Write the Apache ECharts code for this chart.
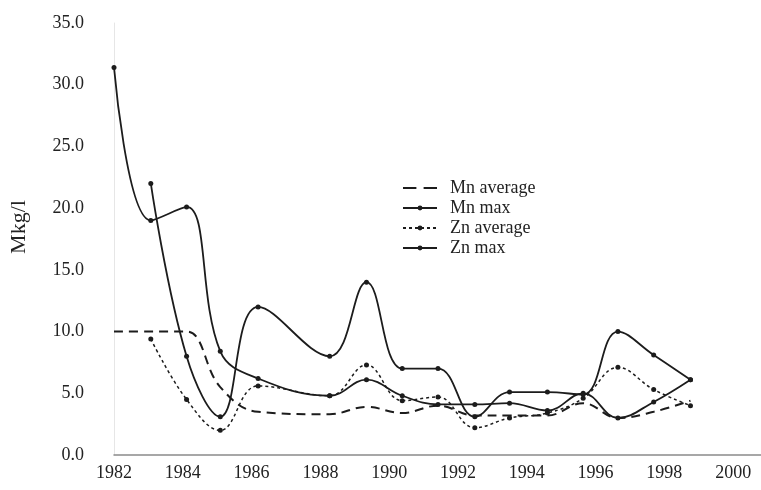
<!DOCTYPE html>
<html>
<head>
<meta charset="utf-8">
<script src="https://cdn.jsdelivr.net/npm/echarts@6/dist/echarts.min.js"></script>
<style>
html,body{margin:0;padding:0;background:#fff;}
#chart{width:761px;height:490px;}
</style>
</head>
<body>
<div id="chart"></div>
<script>
// Year categories of the observations
var years = [1982, 1983, 1984, 1985, 1986, 1988, 1989, 1990, 1991, 1992, 1993, 1994, 1995, 1996, 1997, 1998];
var xPositions = [1982.0, 1983.07, 1984.11, 1985.09, 1986.19, 1988.27, 1989.34, 1990.38, 1991.42, 1992.49, 1993.5, 1994.6, 1995.64, 1996.65, 1997.69, 1998.76];
var mnAverage = [10.0, 10.0, 10.0, 5.5, 3.5, 3.3, 3.9, 3.4, 4.0, 3.2, 3.2, 3.2, 4.2, 3.0, 3.5, 4.4];
var mnMax     = [31.4, 19.0, 20.1, 8.4, 6.2, 4.8, 6.1, 4.8, 4.1, 4.1, 4.2, 3.6, 5.0, 3.0, 4.3, 6.1];
var znAverage = [null, 9.4, 4.5, 2.0, 5.6, 4.8, 7.3, 4.4, 4.7, 2.2, 3.0, 3.4, 4.6, 7.1, 5.3, 4.0];
var znMax     = [null, 22.0, 8.0, 3.1, 12.0, 8.0, 14.0, 7.0, 7.0, 3.1, 5.1, 5.1, 4.9, 10.0, 8.1, 6.1];
var seriesNames = ['Mn average', 'Mn max', 'Zn average', 'Zn max'];
var yTicks = [0, 5, 10, 15, 20, 25, 30, 35];
var xTicks = [1982, 1984, 1986, 1988, 1990, 1992, 1994, 1996, 1998, 2000];
var yName = 'Mkg/l';

function pairs(vals) {
  var out = [];
  for (var i = 0; i < vals.length; i++) {
    if (vals[i] !== null) out.push([xPositions[i], vals[i]]);
  }
  return out;
}

var ink = '#1c1c1c';
var font = 'Liberation Serif';
var chart = echarts.init(document.getElementById('chart'), null, {renderer: 'canvas'});
chart.setOption({
  backgroundColor: '#ffffff',
  animation: false,
  textStyle: {fontFamily: font, color: '#222'},
  grid: {left: 110, right: 0, top: 23, bottom: 35, containLabel: false},
  legend: {
    orient: 'vertical',
    left: 397,
    top: 173,
    itemWidth: 34,
    itemHeight: 6,
    itemGap: 0,
    symbolKeepAspect: true,
    textStyle: {fontFamily: font, fontSize: 18, color: '#222', lineHeight: 20, padding: [0, 0, 0, 8]},
    data: [
      {name: seriesNames[0], icon: 'path://M0,0H13V2H0Z M20,0H33V2H20Z', itemStyle: {color: ink}},
      {name: seriesNames[1]},
      {name: seriesNames[2]},
      {name: seriesNames[3]}
    ]
  },
  xAxis: {
    type: 'value',
    min: xTicks[0],
    max: 2000.81,
    interval: 2,
    axisLine: {show: true, lineStyle: {color: '#8a8a8a', width: 1.5}},
    axisTick: {show: false},
    splitLine: {show: false},
    axisLabel: {
      fontFamily: font, fontSize: 18, color: '#222', margin: 9,
      showMaxLabel: false,
      formatter: function (v) { return xTicks.indexOf(Math.round(v * 100) / 100) >= 0 ? String(v) : ''; }
    }
  },
  yAxis: {
    type: 'value',
    min: yTicks[0],
    max: yTicks[yTicks.length - 1],
    interval: 5,
    name: yName,
    nameLocation: 'middle',
    nameRotate: 90,
    nameGap: 84,
    nameTextStyle: {fontFamily: font, fontSize: 22, color: '#222', padding: [0, 0, 0, 24]},
    axisLine: {show: true, lineStyle: {color: '#e6e6e6', width: 1}},
    axisTick: {show: false},
    splitLine: {show: false},
    axisLabel: {
      fontFamily: font, fontSize: 18, color: '#222', margin: 30,
      formatter: function (v) { return v.toFixed(1); }
    }
  },
  series: [
    {
      name: seriesNames[0], type: 'line', smooth: 0.4,
      data: pairs(mnAverage), symbol: 'none',
      lineStyle: {color: ink, width: 2, type: [9, 6]},
      itemStyle: {color: ink}
    },
    {
      name: seriesNames[1], type: 'line', smooth: 0.4,
      data: pairs(mnMax), symbol: 'circle', symbolSize: 5,
      lineStyle: {color: ink, width: 1.8},
      itemStyle: {color: ink}
    },
    {
      name: seriesNames[2], type: 'line', smooth: 0.4,
      data: pairs(znAverage), symbol: 'circle', symbolSize: 5,
      lineStyle: {color: ink, width: 1.5, type: [3, 3]},
      itemStyle: {color: ink}
    },
    {
      name: seriesNames[3], type: 'line', smooth: 0.4,
      data: pairs(znMax), symbol: 'circle', symbolSize: 5,
      lineStyle: {color: ink, width: 1.8},
      itemStyle: {color: ink}
    }
  ]
});
</script>
</body>
</html>
